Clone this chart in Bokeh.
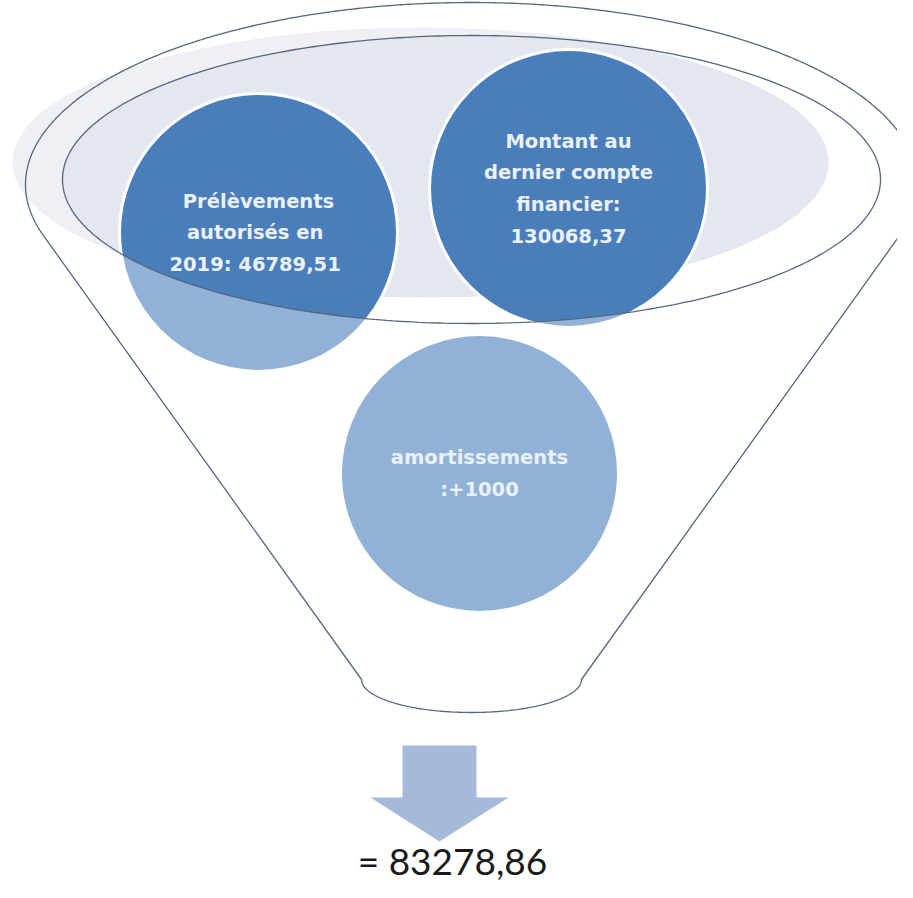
import numpy as np
from bokeh.plotting import figure
from bokeh.models import Range1d
from bokeh.core.properties import value
from bokeh.embed import file_html
from bokeh.resources import INLINE

# ---- content ----
circle_labels = [
    ["Prélèvements", "autorisés  en", "2019:  46789,51"],
    ["Montant au", "dernier compte", "financier:", "130068,37"],
    ["amortissements", ":+1000"],
]
result_label = "= 83278,86"

# ---- layout (page pixel units) ----
circle_cx = [266, 576, 487]
circle_cy = [240, 196, 481]
circle_r = 139
line_h = 31.5

W, H = 897, 882
p = figure(width=W, height=H, x_range=Range1d(8, 8 + W), y_range=Range1d(8 + H, 8),
           output_backend="svg", toolbar_location=None, min_border=0,
           x_axis_location=None, y_axis_location=None)
p.grid.visible = False
p.outline_line_color = None
p.background_fill_color = "white"
p.border_fill_color = "white"

def ell(cx, cy, rx, ry, t0=0, t1=2 * np.pi, n=400):
    t = np.linspace(t0, t1, n)
    return cx + rx * np.cos(t), cy + ry * np.sin(t)

# shaded rim ellipse
p.ellipse(x=428, y=170, width=816, height=270, fill_color="#e4e7f0", line_color=None)

# circles
p.circle(x=circle_cx, y=circle_cy, radius=circle_r, fill_color="#4a7ebb",
         line_color="white", line_width=3)

# translucent funnel body (everything outside the inner rim)
icx, icy, irx, iry = 479, 187, 409, 144
hx, hy = ell(icx, icy, irx, iry)
p.multi_polygons(xs=[[[[-20, 940, 940, -20], list(hx)]]],
                 ys=[[[[-20, -20, 920, 920], list(hy)]]],
                 fill_color="white", fill_alpha=0.4, line_color=None)

# inner rim outline
p.line(hx, hy, line_color="#56667e", line_width=1.3)

# outer funnel outline
ocx, ocy, orx, ory = 479, 192, 446, 182
bcx, bcy, brx, bry = 479, 687, 110, 33

def tangent_t(qx, qy, lo, hi):
    t = np.linspace(lo, hi, 20000)
    px = ocx + orx * np.cos(t)
    py = ocy + ory * np.sin(t)
    cross = (px - qx) * ory * np.cos(t) + (py - qy) * orx * np.sin(t)
    return t[np.argmin(np.abs(cross))]

tl = tangent_t(bcx - brx, bcy, np.pi / 2 + 0.01, np.pi - 0.001)
tr = tangent_t(bcx + brx, bcy, 0.001, np.pi / 2 - 0.01)
ax, ay = ell(ocx, ocy, orx, ory, tl, tr + 2 * np.pi, 600)
bx, by = ell(bcx, bcy, brx, bry, 0, np.pi, 200)
fx = np.concatenate([ax, bx, ax[:1]])
fy = np.concatenate([ay, by, ay[:1]])
p.line(fx, fy, line_color="#56667e", line_width=1.3)

# circle texts
tx, ty, tt = [], [], []
for cx, cy, lines in zip(circle_cx, circle_cy, circle_labels):
    n = len(lines)
    for i, ln in enumerate(lines):
        tx.append(cx)
        ty.append(cy + (i - (n - 1) / 2) * line_h)
        tt.append(ln)
p.text(x=tx, y=ty, text=tt, text_align="center", text_baseline="middle",
       text_font=value("DejaVu Sans"), text_font_style="bold",
       text_font_size="19.5px", text_color="#eaf1fb")

# arrow
ax0 = 447
p.patch(x=[ax0 - 37, ax0 + 37, ax0 + 37, ax0 + 69, ax0, ax0 - 69, ax0 - 37],
        y=[753, 753, 805, 805, 849, 805, 805], fill_color="#a5bad9", line_color=None)

p.text(x=[460], y=[868], text=[result_label], text_align="center", text_baseline="middle",
       text_font=value("Lato"), text_font_size="37px", text_color="#1a1a1a")

open("out.html", "w").write(file_html(p, INLINE))
